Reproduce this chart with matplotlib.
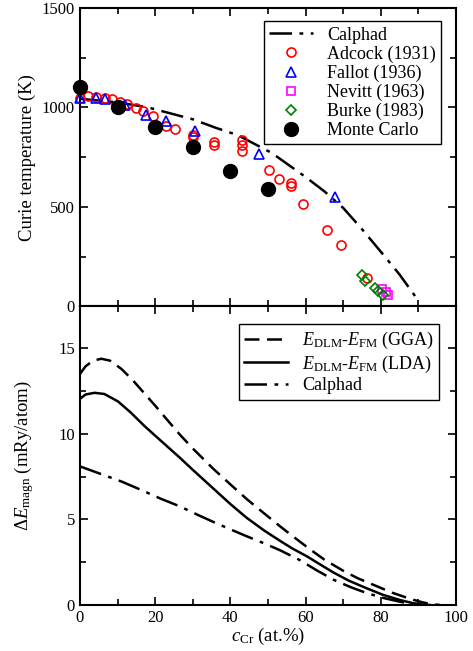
import matplotlib
matplotlib.use("Agg")
import matplotlib.pyplot as plt
from matplotlib.ticker import MultipleLocator

plt.rcParams['font.family'] = ['Liberation Serif', 'DejaVu Serif']
plt.rcParams['mathtext.fontset'] = 'custom'
plt.rcParams['mathtext.rm'] = 'Liberation Serif'
plt.rcParams['mathtext.it'] = 'Liberation Serif:italic'

# ---- top panel: Curie temperature ----
calphad_x = [0, 10, 18, 23, 30, 36, 42, 51, 60, 65, 70, 75, 80, 85, 89, 89.6]
calphad_T = [1043, 1025, 1000, 975, 940, 898, 860, 771, 650, 578, 495, 388, 275, 160, 55, 38]

adcock_x = [0, 2.2, 4.4, 6.6, 8.4, 10.6, 12.4, 14.9, 16.8, 19.5, 23, 25.3, 30, 30,
            35.6, 35.6, 43, 43, 43, 50.4, 53, 56, 56, 59.2, 65.8, 69.3, 76.4]
adcock_T = [1047, 1059, 1052, 1047, 1042, 1025, 1018, 997, 983, 955, 908, 891, 861, 851,
            825, 810, 838, 810, 783, 687, 640, 620, 607, 512, 383, 306, 144]

fallot_x = [0, 4.3, 6.6, 12, 17.7, 23, 30.6, 47.6, 67.8]
fallot_T = [1045, 1047, 1042, 1013, 960, 930, 880, 768, 548]

nevitt_x = [80.2, 81.4, 82]
nevitt_T = [85, 72, 55]

burke_x = [74.9, 75.8, 78.5, 79.3, 80.5]
burke_T = [156, 127, 94, 77, 55]

mc_x = [0, 10, 20, 30, 40, 50]
mc_T = [1100, 1000, 900, 800, 680, 590]

# ---- bottom panel: magnetic energy ----
gga_x = [0, 1.5, 3.5, 5.7, 8, 11, 14, 17.2, 20, 22.5, 26.6, 30, 35.5, 40, 44.3, 49,
         53.2, 57, 61.2, 65, 70, 74, 78.9, 83, 87.8, 91, 93.5, 95.7]
gga_E = [13.5, 13.95, 14.28, 14.39, 14.28, 13.8, 13.15, 12.35, 11.65, 11.0, 9.95, 9.15, 7.95, 7.05,
         6.2, 5.35, 4.6, 3.95, 3.25, 2.65, 2.0, 1.55, 1.1, 0.72, 0.36, 0.16, 0.05, 0]

lda_x = [0, 1.5, 3.9, 6.5, 10.1, 13.5, 17.2, 21, 26.6, 30, 35.5, 40, 44.3, 49, 53.2,
         56.5, 60.3, 63.5, 67.4, 71.5, 76.2, 80.5, 85.1, 88.5, 91, 93]
lda_E = [12.05, 12.3, 12.4, 12.33, 11.9, 11.25, 10.45, 9.7, 8.6, 7.9, 6.8, 5.9, 5.1, 4.35, 3.75,
         3.3, 2.85, 2.42, 1.9, 1.42, 0.98, 0.6, 0.29, 0.11, 0.03, 0]

cal_x = [0, 5, 11, 16, 21.6, 26.6, 31, 35.5, 40, 44.3, 49, 53.2, 58.5, 63, 67.4, 72,
         76.2, 80.5, 85.1, 88, 90.4]
cal_E = [8.1, 7.7, 7.22, 6.75, 6.2, 5.76, 5.3, 4.85, 4.42, 4.02, 3.6, 3.2, 2.62, 2.02, 1.48, 1.04,
         0.7, 0.42, 0.19, 0.07, 0]

dashdot = (0, (9, 3, 1.5, 3))

fig = plt.figure(figsize=(4.73, 6.51), dpi=100)
gs = fig.add_gridspec(2, 1, left=0.169, right=0.964, top=0.988, bottom=0.0707, hspace=0)
ax1 = fig.add_subplot(gs[0])
ax2 = fig.add_subplot(gs[1], sharex=ax1)

ax1.plot(calphad_x, calphad_T, color='black', lw=1.8, linestyle=dashdot, label='Calphad', zorder=2)
ax1.plot(adcock_x, adcock_T, 'o', mfc='none', mec='red', ms=6.5, mew=1.2, label='Adcock (1931)',
         zorder=3, clip_on=False)
ax1.plot(fallot_x, fallot_T, '^', mfc='none', mec='blue', ms=7, mew=1.2, label='Fallot (1936)',
         zorder=3, clip_on=False)
ax1.plot(nevitt_x, nevitt_T, 's', mfc='none', mec='magenta', ms=6, mew=1.2, label='Nevitt (1963)', zorder=3)
ax1.plot(burke_x, burke_T, 'D', mfc='none', mec='green', ms=5, mew=1.2, label='Burke (1983)', zorder=3)
ax1.plot(mc_x, mc_T, 'o', color='black', ms=10, label='Monte Carlo', zorder=4, clip_on=False)

ax1.set_ylim(0, 1500)
ax1.set_xlim(0, 100)
ax1.set_ylabel('Curie temperature (K)', fontsize=13.5)
ax1.yaxis.set_major_locator(MultipleLocator(500))
ax1.yaxis.set_minor_locator(MultipleLocator(250))
leg1 = ax1.legend(loc='upper right', fontsize=13, frameon=True, fancybox=False,
                  edgecolor='black', framealpha=1, handlelength=2.4, borderpad=0.3,
                  labelspacing=0.1, handletextpad=0.8, bbox_to_anchor=(0.985, 0.985))
leg1.get_frame().set_linewidth(1.0)
plt.setp(ax1.get_xticklabels(), visible=False)

ax2.plot(gga_x, gga_E, color='black', lw=1.8, linestyle=(0, (6, 3)),
         label=r'$E_{\mathrm{DLM}}$-$E_{\mathrm{FM}}$ (GGA)')
ax2.plot(lda_x, lda_E, color='black', lw=1.8, linestyle='-',
         label=r'$E_{\mathrm{DLM}}$-$E_{\mathrm{FM}}$ (LDA)')
ax2.plot(cal_x, cal_E, color='black', lw=1.8, linestyle=dashdot, label='Calphad')

ax2.set_ylim(0, 17.45)
ax2.set_xlabel(r'$c_{\mathrm{Cr}}$ (at.%)', fontsize=13.5, labelpad=0)
ax2.set_ylabel(r'$\mathit{\Delta E}_{\mathrm{magn}}$ (mRy/atom)', fontsize=13.5)
ax2.yaxis.set_major_locator(MultipleLocator(5))
ax2.yaxis.set_minor_locator(MultipleLocator(2.5))
ax2.xaxis.set_major_locator(MultipleLocator(20))
ax2.xaxis.set_minor_locator(MultipleLocator(10))
leg2 = ax2.legend(loc='upper right', fontsize=13, frameon=True, fancybox=False,
                  edgecolor='black', framealpha=1, handlelength=2.4, borderpad=0.3,
                  labelspacing=0.15, handletextpad=0.8, bbox_to_anchor=(0.98, 0.97))
leg2.get_frame().set_linewidth(1.0)

for ax in (ax1, ax2):
    ax.tick_params(which='both', direction='in', top=True, right=True, labelsize=12)
    ax.tick_params(which='major', length=6, width=1.2)
    ax.tick_params(which='minor', length=4, width=1.2)
    for s in ax.spines.values():
        s.set_linewidth(1.5)

fig.align_ylabels([ax1, ax2])
fig.savefig('out.png', dpi=100)
